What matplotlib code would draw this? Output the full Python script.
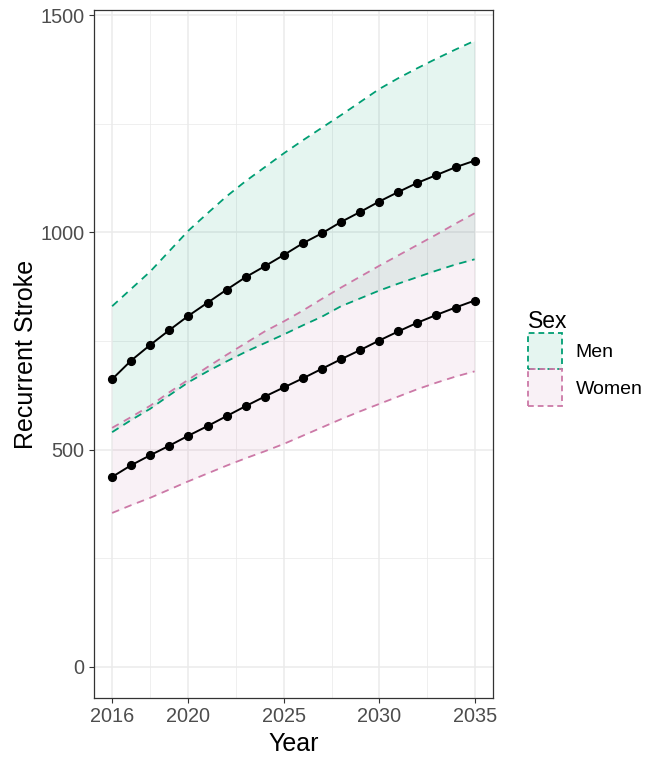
import matplotlib
matplotlib.use("Agg")
import matplotlib.pyplot as plt
import matplotlib.colors as mc
from matplotlib.patches import Patch
from matplotlib.ticker import FixedLocator

plt.rcParams['font.family'] = ['Liberation Sans', 'DejaVu Sans']

years = list(range(2016, 2036))

men_mid = [662, 705, 741, 775, 808, 838, 868, 897, 922, 948,
           975, 998, 1024, 1047, 1071, 1093, 1114, 1132, 1150, 1165]
men_upper = [830, 870, 910, 957, 1004, 1044, 1083, 1118, 1150, 1182,
             1212, 1241, 1270, 1300, 1330, 1355, 1378, 1400, 1421, 1441]
men_lower = [540, 568, 594, 625, 655, 680, 703, 725, 745, 765,
             786, 806, 830, 848, 866, 882, 897, 912, 926, 938]

women_mid = [437, 464, 487, 509, 532, 554, 577, 600, 622, 643,
             664, 686, 708, 729, 751, 772, 792, 810, 827, 843]
women_upper = [550, 575, 601, 632, 661, 690, 718, 745, 772, 795,
               820, 847, 873, 898, 923, 947, 971, 995, 1020, 1044]
women_lower = [354, 372, 389, 408, 427, 445, 463, 480, 496, 513,
               532, 551, 570, 588, 605, 622, 639, 654, 668, 680]

sexes = ["Men", "Women"]
colors = {"Men": "#009E73", "Women": "#CC79A7"}

x_ticks = [2016, 2020, 2025, 2030, 2035]
x_minor = [2018, 2022.5, 2027.5, 2032.5]
y_ticks = [0, 500, 1000, 1500]
y_minor = [250, 750, 1250]

fig = plt.figure(figsize=(6.48, 7.57), dpi=100)
ax = fig.add_axes([94/648, 1-698/757, (492.7-94)/648, (698-10)/757])

series = {
    "Men": (men_lower, men_mid, men_upper),
    "Women": (women_lower, women_mid, women_upper),
}

for s in sexes:
    lo, mid, hi = series[s]
    ax.fill_between(years, lo, hi, color=colors[s], alpha=0.1, linewidth=0, zorder=2)
for s in sexes:
    lo, mid, hi = series[s]
    for b in (lo, hi):
        ax.plot(years, b, color=colors[s], lw=1.3, dashes=(4.2, 3.2), zorder=3)
for s in sexes:
    lo, mid, hi = series[s]
    ax.plot(years, mid, color='black', lw=1.4, marker='o', markersize=5.6, zorder=4)

ax.set_xlim(2015.05, 2035.95)
ax.set_ylim(-72, 1512)
ax.xaxis.set_major_locator(FixedLocator(x_ticks))
ax.xaxis.set_minor_locator(FixedLocator(x_minor))
ax.yaxis.set_major_locator(FixedLocator(y_ticks))
ax.yaxis.set_minor_locator(FixedLocator(y_minor))

ax.grid(True, which='major', color='#EBEBEB', lw=1.1, zorder=0)
ax.grid(True, which='minor', color='#EBEBEB', lw=0.55, zorder=0)
ax.set_axisbelow(True)
ax.tick_params(which='major', direction='out', length=3.8, width=0.8, color='#333333',
               labelcolor='#4D4D4D', labelsize=14.3, pad=3)
ax.tick_params(which='minor', length=0)
for sp in ax.spines.values():
    sp.set_color('#333333')
    sp.set_linewidth(0.9)

ax.set_xlabel("Year", fontsize=18, color='black', labelpad=4)
ax.set_ylabel("Recurrent Stroke", fontsize=18, color='black', labelpad=2)

handles = []
for s in sexes:
    r, g, b = mc.to_rgb(colors[s])
    handles.append(Patch(facecolor=(r, g, b, 0.1), edgecolor=(r, g, b, 1.0),
                         linestyle=(0, (3.2, 2.2)), linewidth=1.3))
leg = fig.legend(handles, sexes, loc='center left', bbox_to_anchor=(528/648, 1-358/757),
                 frameon=False, fontsize=14, title="Sex", title_fontsize=16.5,
                 handlelength=1.75, handleheight=2.5, labelspacing=0.0,
                 handletextpad=0.7, borderpad=0, borderaxespad=0, alignment='left')

fig.savefig("out.png", dpi=100)
